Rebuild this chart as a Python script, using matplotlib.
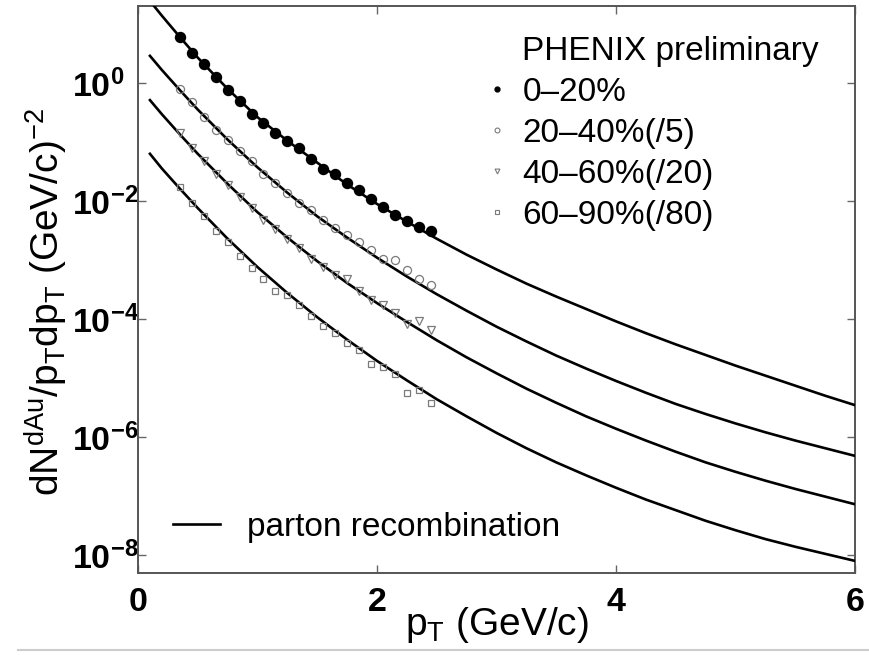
"""PHENIX d+Au spectra by centrality vs parton recombination curves."""

import matplotlib
matplotlib.use("Agg")
import matplotlib.pyplot as plt
import numpy as np
from matplotlib.lines import Line2D

plt.rcParams["font.family"] = ["Liberation Sans", "DejaVu Sans"]
plt.rcParams["mathtext.fontset"] = "custom"
plt.rcParams["mathtext.rm"] = "Liberation Sans"
plt.rcParams["mathtext.it"] = "Liberation Sans"
plt.rcParams["mathtext.bf"] = "Liberation Sans:bold"

# ---- data (log10 of yield) ----
pt_data = [0.35, 0.45, 0.55, 0.65, 0.75, 0.85, 0.95, 1.05, 1.15, 1.25, 1.35,
           1.45, 1.55, 1.65, 1.75, 1.85, 1.95, 2.05, 2.15, 2.25, 2.35, 2.45]
log_c0_20 = [0.78, 0.50, 0.32, 0.10, -0.12, -0.30, -0.52, -0.67, -0.84, -0.98, -1.11,
             -1.29, -1.46, -1.54, -1.69, -1.81, -1.97, -2.10, -2.24, -2.34, -2.44, -2.51]
log_c20_40 = [-0.10, -0.32, -0.57, -0.79, -0.97, -1.16, -1.33, -1.54, -1.70, -1.86, -2.03,
              -2.15, -2.32, -2.45, -2.57, -2.70, -2.83, -2.99, -3.00, -3.17, -3.32, -3.42]
log_c40_60 = [-0.85, -1.10, -1.32, -1.54, -1.73, -1.93, -2.12, -2.32, -2.47, -2.64, -2.80,
              -2.99, -3.12, -3.25, -3.33, -3.53, -3.68, -3.76, -3.90, -4.09, -4.04, -4.18]
log_c60_90 = [-1.76, -2.03, -2.26, -2.51, -2.70, -2.94, -3.13, -3.33, -3.52, -3.59, -3.76,
              -3.95, -4.12, -4.24, -4.41, -4.53, -4.77, -4.82, -4.94, -5.25, -5.21, -5.43]

pt_curve = [0.1, 0.2, 0.35, 0.5, 0.75, 1.0, 1.25, 1.5, 1.75, 2.0, 2.25, 2.5,
            2.75, 3.0, 3.25, 3.5, 3.75, 4.0, 4.25, 4.5, 4.75, 5.0, 5.25, 5.5, 5.75, 6.0]
log_reco_0_20 = [1.39, 1.14, 0.78, 0.43, -0.10, -0.58, -0.98, -1.35, -1.72, -2.05, -2.35, -2.64,
                 -2.91, -3.16, -3.40, -3.62, -3.83, -4.04, -4.24, -4.43, -4.61, -4.79, -4.96,
                 -5.13, -5.30, -5.46]
log_reco_20_40 = [0.46, 0.22, -0.12, -0.45, -0.96, -1.43, -1.86, -2.26, -2.62, -2.96, -3.28, -3.58,
                  -3.86, -4.13, -4.38, -4.62, -4.84, -5.05, -5.25, -5.44, -5.61, -5.77, -5.92,
                  -6.06, -6.19, -6.32]
log_reco_40_60 = [-0.29, -0.53, -0.87, -1.20, -1.71, -2.19, -2.62, -3.02, -3.39, -3.73, -4.05, -4.36,
                  -4.65, -4.92, -5.18, -5.42, -5.65, -5.86, -6.06, -6.25, -6.43, -6.59, -6.74,
                  -6.88, -7.01, -7.14]
log_reco_60_90 = [-1.20, -1.45, -1.79, -2.12, -2.64, -3.12, -3.56, -3.97, -4.35, -4.71, -5.04, -5.36,
                  -5.65, -5.93, -6.19, -6.43, -6.65, -6.86, -7.06, -7.24, -7.42, -7.58, -7.73,
                  -7.86, -7.98, -8.10]

legend_labels = ["PHENIX preliminary", "0\u201320%", "20\u201340%(/5)",
                 "40\u201360%(/20)", "60\u201390%(/80)"]
y_ticks = [0, -2, -4, -6, -8]
x_ticks = [0, 2, 4, 6]

W, H = 869, 655
fig = plt.figure(figsize=(W / 100, H / 100), dpi=100)
ax = fig.add_axes([138 / W, 1 - 573 / H, (855 - 138) / W, (573 - 6) / H])

gray = "#7a7a7a"
for logs in (log_reco_0_20, log_reco_20_40, log_reco_40_60, log_reco_60_90):
    ax.plot(pt_curve, 10.0 ** np.array(logs), color="black", lw=1.9, zorder=3)

ax.plot(pt_data, 10.0 ** np.array(log_c0_20), "o", color="black", ms=7.2, zorder=4)
ax.plot(pt_data, 10.0 ** np.array(log_c20_40), "o", mfc="none", mec=gray, mew=0.9, ms=5.8, zorder=4)
ax.plot(pt_data, 10.0 ** np.array(log_c40_60), "v", mfc="none", mec=gray, mew=0.9, ms=6.0, zorder=4)
ax.plot(pt_data, 10.0 ** np.array(log_c60_90), "s", mfc="none", mec=gray, mew=0.9, ms=5.0, zorder=4)

ax.set_yscale("log")
ax.set_xlim(0, 6)
ax.set_ylim(10 ** -8.305, 10 ** 1.305)
ax.set_xticks(x_ticks)
ax.set_xticklabels([rf"$\mathbf{{{t}}}$" for t in x_ticks])
ax.set_yticks([10.0 ** e for e in y_ticks])
ax.set_yticklabels([rf"$\mathbf{{10^{{{e}}}}}$" for e in y_ticks])
ax.minorticks_off()
ax.tick_params(direction="in", length=6, width=1.0, color="#666666",
               top=True, right=True, labelsize=24.5)
ax.tick_params(axis="y", pad=47.5)
ax.tick_params(axis="x", pad=10)
for lab in ax.get_yticklabels():
    lab.set_horizontalalignment("left")
for sp in ax.spines.values():
    sp.set_color("#555555")
    sp.set_linewidth(1.4)

ax.set_ylabel(r"$\mathrm{dN^{dAu}/p_T dp_T\ (GeV/c)^{-2}}$", fontsize=28, va="center")
ax.yaxis.set_label_coords(-0.127, 0.478)
ax.set_xlabel(r"$\mathrm{p_T}$ (GeV/c)", fontsize=28, va="top")
ax.xaxis.set_label_coords(0.5, -0.056)

# centrality legend
handles = [
    Line2D([], [], linestyle="none"),
    Line2D([], [], marker="o", color="black", ms=3.5, linestyle="none"),
    Line2D([], [], marker="o", mfc="none", mec=gray, mew=0.8, ms=3.5, linestyle="none"),
    Line2D([], [], marker="v", mfc="none", mec=gray, mew=0.8, ms=3.5, linestyle="none"),
    Line2D([], [], marker="s", mfc="none", mec=gray, mew=0.8, ms=3.0, linestyle="none"),
]
leg = ax.legend(handles, legend_labels, loc="upper left", bbox_to_anchor=(0.4826, 0.947),
                frameon=False, fontsize=24, handlelength=0.8, handletextpad=0.35,
                labelspacing=0.3, borderpad=0, borderaxespad=0)
ax.add_artist(leg)

ax.legend([Line2D([], [], color="black", lw=1.9)], ["parton recombination"],
          loc="center left", bbox_to_anchor=(0.0488, 0.081), frameon=False,
          fontsize=24, handlelength=1.41, handletextpad=0.81,
          borderpad=0, borderaxespad=0)

# page rule under the figure
fig.add_artist(Line2D([18 / W, 1], [1 - 650 / H, 1 - 650 / H], color="#cccccc", lw=1.5))

fig.savefig("out.png", dpi=100)
